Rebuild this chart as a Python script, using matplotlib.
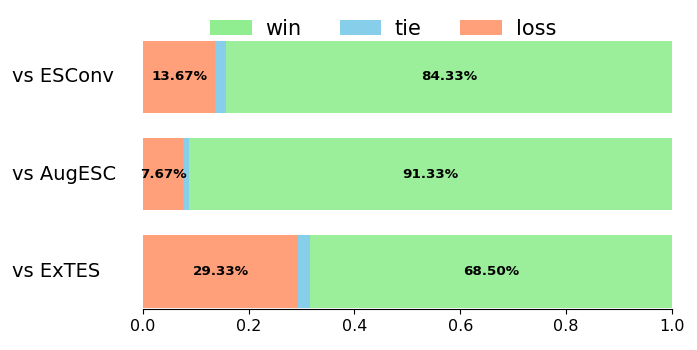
import matplotlib.pyplot as plt
import numpy as np

labels = ['vs ESConv', 'vs AugESC', 'vs ExTES']
loss = [13.67, 7.67, 29.33]
win = [84.33, 91.33, 68.50]
tie = [100 - l - w for l, w in zip(loss, win)]

loss_f = np.array(loss) / 100
tie_f = np.array(tie) / 100
win_f = np.array(win) / 100

fig, ax = plt.subplots(figsize=(6.97, 3.5), dpi=100)
fig.subplots_adjust(left=0.205, right=0.964, bottom=0.117, top=0.891)

y = np.arange(len(labels))[::-1]
h = 0.75
b_loss = ax.barh(y, loss_f, height=h, color='lightsalmon', label='loss')
b_tie = ax.barh(y, tie_f, left=loss_f, height=h, color='skyblue', label='tie')
b_win = ax.barh(y, win_f, left=loss_f + tie_f, height=h, color='lightgreen', alpha=0.9, label='win')

for i in range(len(labels)):
    ax.text(loss_f[i] / 2, y[i], f'{loss[i]:.2f}%', ha='center', va='center',
            fontsize=9.7, fontweight='bold')
    ax.text(loss_f[i] + tie_f[i] + win_f[i] / 2, y[i], f'{win[i]:.2f}%',
            ha='center', va='center', fontsize=9.7, fontweight='bold')

ax.set_yticks(y)
ax.set_yticklabels(labels, fontsize=14)
for t in ax.get_yticklabels():
    t.set_horizontalalignment('left')
    t.set_verticalalignment('center')
ax.tick_params(axis='y', length=0, pad=94)
ax.tick_params(axis='x', labelsize=11.5)
ax.set_xlim(0, 1)
ax.set_ylim(-0.39, 2.4)
for s in ['left', 'top', 'right']:
    ax.spines[s].set_visible(False)

handles = [b_win, b_tie, b_loss]
leg = ax.legend(handles, ['win', 'tie', 'loss'], loc='lower center', bbox_to_anchor=(0.4537, 0.928),
                ncol=3, frameon=False, fontsize=15, handletextpad=0.65, columnspacing=1.85)
for lh in leg.legend_handles:
    lh.set_alpha(1)

plt.savefig('out.png')
